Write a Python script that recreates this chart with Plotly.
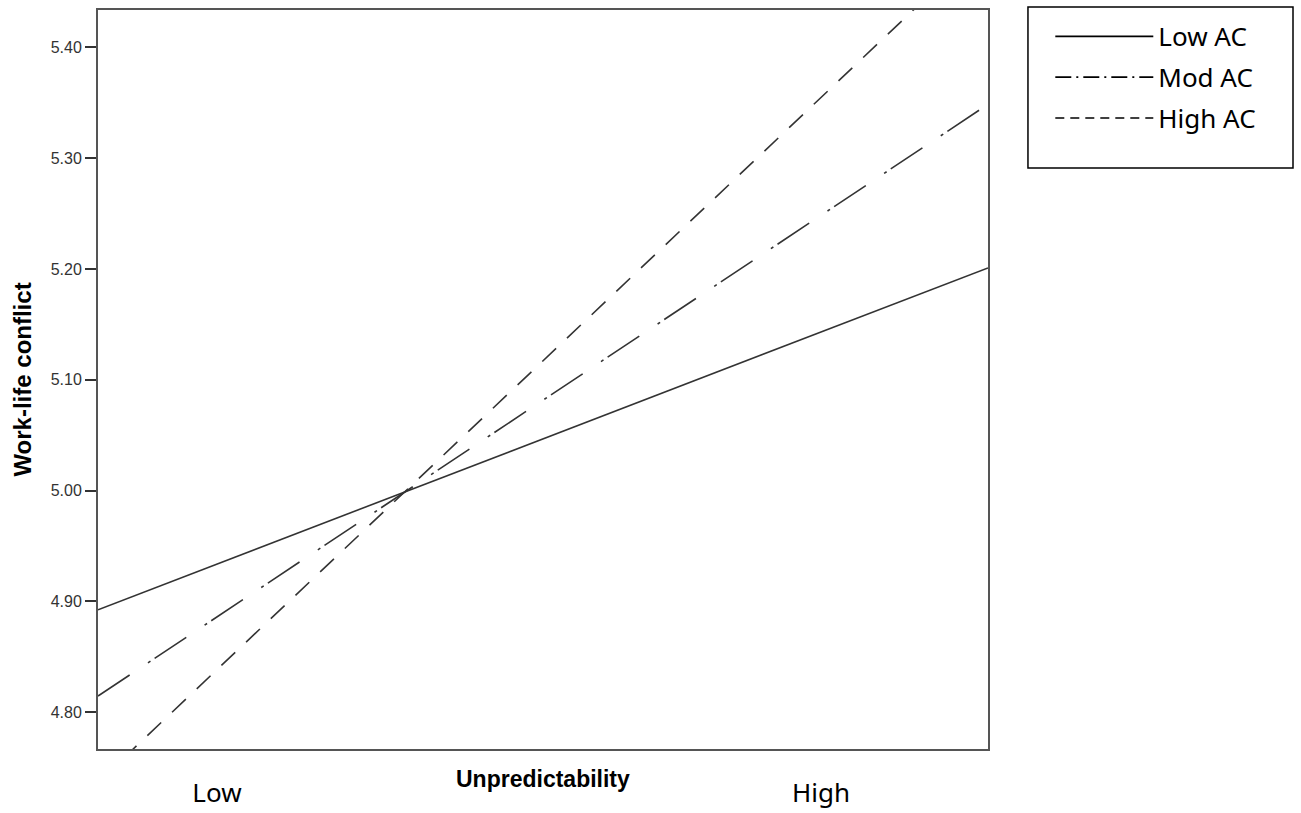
import plotly.graph_objects as go

# Data: predicted work-life conflict at left/right edges of the plotted unpredictability range
x_edges = [0.0, 1.0]
low_ac = [4.8925, 5.201]
mod_ac = [4.8147, 5.3486]
high_ac = [4.7368, 5.4975]

series_names = ["Low AC", "Mod AC", "High AC"]
x_tick_pos = [0.1337, 0.8124]
x_tick_text = ["Low", "High"]
y_ticks = [4.80, 4.90, 5.00, 5.10, 5.20, 5.30, 5.40]

line_color = "#333333"
dashes = ["solid", "38px,22px,3px,5px", "19px,15px"]
legend_dashes = ["solid", "16px,5px,2px,5px", "9px,6px"]

fig = go.Figure()
for i, (name, vals) in enumerate(zip(series_names, [low_ac, mod_ac, high_ac])):
    fig.add_trace(go.Scatter(
        x=x_edges, y=vals, mode="lines", name=name, legendgroup=name,
        showlegend=False,
        line=dict(color=line_color, width=1.6, dash=dashes[i]),
    ))
# legend entries (same series, shorter dash pattern for the legend key)
for i, name in enumerate(series_names):
    fig.add_trace(go.Scatter(
        x=[None], y=[None], mode="lines", name=name, legendgroup=name,
        line=dict(color="black", width=1.6, dash=legend_dashes[i]),
    ))

fig.update_layout(
    width=1301, height=813,
    margin=dict(l=98, r=313, t=10, b=64),
    plot_bgcolor="white", paper_bgcolor="white",
    showlegend=True,
    legend=dict(
        x=1.07, y=0.996, xanchor="left", yanchor="top",
        borderwidth=0, bgcolor="rgba(0,0,0,0)",
        font=dict(family="Noto Sans", size=26, color="black"),
        tracegroupgap=4, itemwidth=98,
    ),
    xaxis=dict(
        range=[0, 1], showgrid=False, zeroline=False, automargin=False,
        showline=True, mirror=True, linecolor="#555555", linewidth=2,
        tickvals=x_tick_pos, ticktext=x_tick_text, ticks="",
        tickfont=dict(family="Noto Sans", size=26, color="black"),
        ticklabelstandoff=20,
    ),
    yaxis=dict(
        range=[4.7669, 5.4337], showgrid=False, zeroline=False, automargin=False,
        showline=True, mirror=True, linecolor="#555555", linewidth=2,
        tickvals=y_ticks, tickformat=".2f", ticks="outside", ticklen=11,
        tickcolor="#333333", tickwidth=2,
        tickfont=dict(family="Arial, Liberation Sans", size=16, color="#333333"),
        title=dict(text="<b>Work-life conflict</b>", standoff=12,
                   font=dict(family="Arial, Liberation Sans", size=24, color="black")),
    ),
    shapes=[dict(
        type="rect", xref="paper", yref="paper",
        x0=1.0449, x1=1.3427, y0=0.7862, y1=1.0041,
        line=dict(color="black", width=1.5), fillcolor="rgba(0,0,0,0)",
    )],
    annotations=[dict(
        text="<b>Unpredictability</b>", xref="paper", yref="paper",
        x=0.5, y=-0.0406, xanchor="center", yanchor="middle", showarrow=False,
        font=dict(family="Arial, Liberation Sans", size=23, color="black"),
    )],
)

fig.write_html("out.html", config={"displayModeBar": False},
               post_script="document.body.style.margin='0px';")
